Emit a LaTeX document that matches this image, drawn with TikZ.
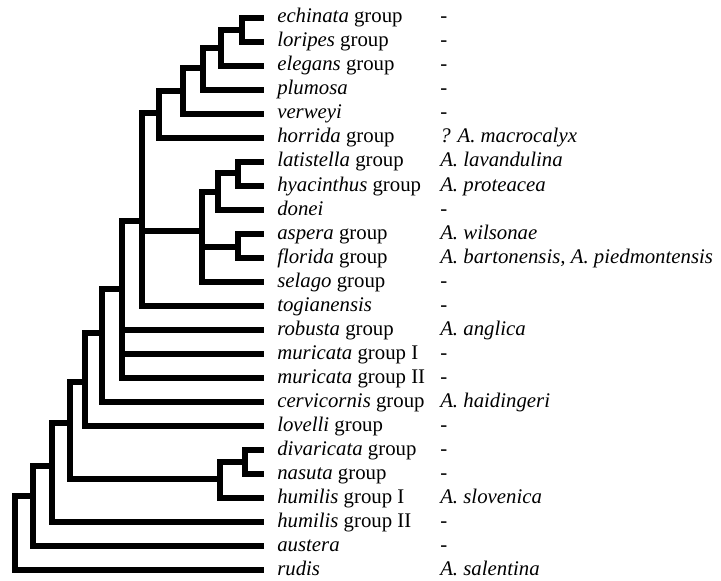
\documentclass[tikz,border=0pt]{standalone}
\usepackage{fontspec}
\setmainfont{Liberation Serif}
\usetikzlibrary{calc}
\tikzset{
  branch/.style={line width=4pt, line cap=rect},
  taxon/.style={anchor=base west, inner sep=0pt, font=\fontsize{15.6}{18}\selectfont},
}

\begin{document}
\begin{tikzpicture}[x=0.75pt, y=-0.75pt]
  \useasboundingbox (0,0) rectangle (721,581);

  % terminal taxa: name / label / fossil taxon
  \foreach \nm/\txt/\fos [count=\i from 0] in {
      echinata/{\textit{echinata} group}/-,
      loripes/{\textit{loripes} group}/-,
      elegans/{\textit{elegans} group}/-,
      plumosa/{\textit{plumosa}}/-,
      verweyi/{\textit{verweyi}}/-,
      horrida/{\textit{horrida} group}/{? A. macrocalyx},
      latistella/{\textit{latistella} group}/{A. lavandulina},
      hyacinthus/{\textit{hyacinthus} group}/{A. proteacea},
      donei/{\textit{donei}}/-,
      aspera/{\textit{aspera} group}/{A. wilsonae},
      florida/{\textit{florida} group}/{A. bartonensis, A. piedmontensis},
      selago/{\textit{selago} group}/-,
      togianensis/{\textit{togianensis}}/-,
      robusta/{\textit{robusta} group}/{A. anglica},
      muricataI/{\textit{muricata} group I}/-,
      muricataII/{\textit{muricata} group II}/-,
      cervicornis/{\textit{cervicornis} group}/{A. haidingeri},
      lovelli/{\textit{lovelli} group}/-,
      divaricata/{\textit{divaricata} group}/-,
      nasuta/{\textit{nasuta} group}/-,
      humilisI/{\textit{humilis} group I}/{A. slovenica},
      humilisII/{\textit{humilis} group II}/-,
      austera/{\textit{austera}}/-,
      rudis/{\textit{rudis}}/{A. salentina}}{
    \pgfmathsetmacro{\y}{18+24*\i}
    \coordinate (\nm) at (261,\y);
    \node[taxon] (\nm-name) at (277,\y+5) {\txt};
    \node[taxon] (\nm-fossil) at (440,\y+5) {\textit{\fos}};
  }

  % internal nodes
  \coordinate (n1) at (242,30);
  \coordinate (n2) at (221,48);
  \coordinate (n3) at (203,68);
  \coordinate (n4) at (183,91);
  \coordinate (n5) at (159,113);
  \coordinate (n6) at (238,173);
  \coordinate (n7) at (218,192);
  \coordinate (n8) at (238,247);
  \coordinate (n9) at (202,231);
  \coordinate (n10) at (142,221);
  \coordinate (n11) at (122,289);
  \coordinate (n12) at (102,333);
  \coordinate (n13) at (85,382);
  \coordinate (n14) at (245,462);
  \coordinate (n15) at (220,479);
  \coordinate (n16) at (70,423);
  \coordinate (n17) at (52,466);
  \coordinate (n18) at (33,496);
  \coordinate (root) at (15,533);

  % branches
  \foreach \a/\b in {n1/echinata, n1/loripes, n2/n1, n2/elegans, n3/n2, n3/plumosa,
      n4/n3, n4/verweyi, n5/n4, n5/horrida, n6/latistella, n6/hyacinthus,
      n7/n6, n7/donei, n8/aspera, n8/florida, n9/n7, n9/n8, n9/selago,
      n10/n5, n10/n9, n10/togianensis, n11/n10, n11/robusta, n11/muricataI,
      n11/muricataII, n12/n11, n12/cervicornis, n13/n12, n13/lovelli,
      n14/divaricata, n14/nasuta, n15/n14, n15/humilisI, n16/n13, n16/n15,
      n17/n16, n17/humilisII, n18/n17, n18/austera, root/n18, root/rudis}
    \draw[branch] (\a) |- (\b);
\end{tikzpicture}
\end{document}
